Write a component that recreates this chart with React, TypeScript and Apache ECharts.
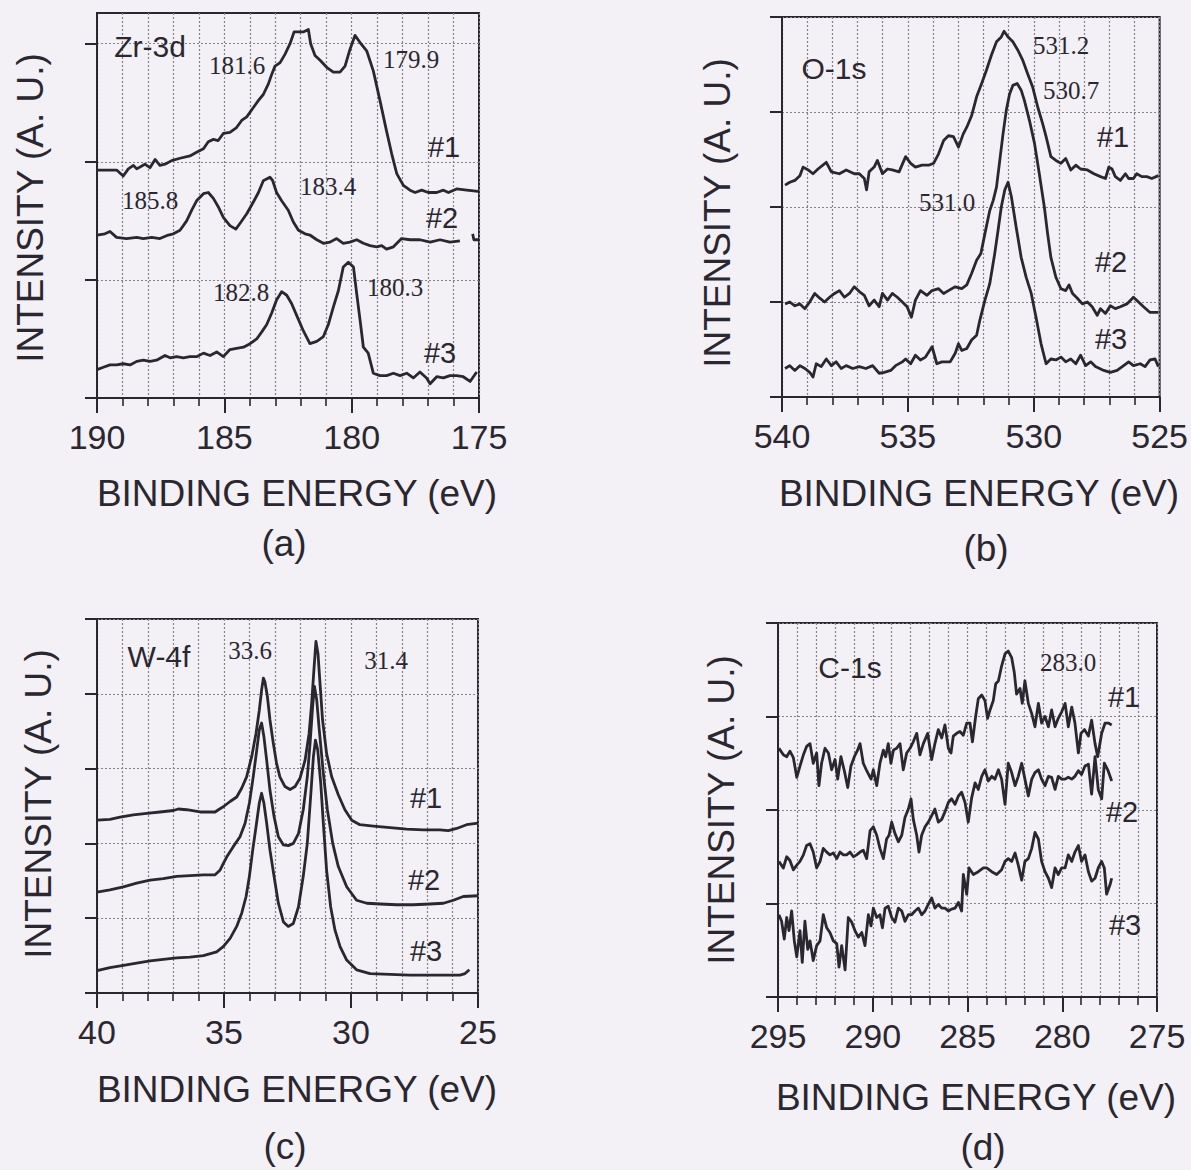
import React, { useEffect, useRef } from 'react';
import * as echarts from 'echarts';

// ---------- data (binding energy eV, intensity a.u.) ----------
const zr1 = [[190.0,1.93],[189.23,1.93],[188.97,1.88],[188.77,1.94],[188.57,1.97],[188.44,1.94],[188.12,1.98],[187.92,1.95],[187.72,2.02],[187.53,1.97],[187.33,1.98],[187.07,2.01],[186.74,2.03],[186.35,2.05],[186.09,2.08],[185.82,2.11],[185.63,2.17],[185.43,2.19],[185.24,2.18],[185.04,2.24],[184.78,2.25],[184.52,2.29],[184.32,2.35],[184.12,2.38],[183.86,2.46],[183.66,2.52],[183.47,2.57],[183.27,2.66],[183.14,2.74],[183.01,2.81],[182.81,2.84],[182.62,2.91],[182.42,3.0],[182.26,3.1],[182.03,3.1],[181.9,3.1],[181.7,3.12],[181.61,3.0],[181.44,2.9],[181.24,2.86],[180.98,2.8],[180.72,2.76],[180.46,2.76],[180.26,2.81],[180.07,2.95],[179.87,3.07],[179.67,3.01],[179.41,2.94],[179.15,2.77],[178.89,2.52],[178.63,2.26],[178.43,2.07],[178.23,1.9],[177.97,1.8],[177.71,1.76],[177.51,1.74],[177.25,1.76],[176.99,1.74],[176.66,1.74],[176.4,1.76],[176.2,1.74],[175.88,1.77],[175.48,1.76],[175.03,1.75]];
const zr2 = [[190.0,1.38],[189.69,1.39],[189.49,1.41],[189.23,1.36],[188.84,1.35],[188.44,1.36],[188.18,1.35],[187.85,1.36],[187.53,1.35],[187.2,1.38],[187.0,1.39],[186.74,1.42],[186.48,1.5],[186.28,1.59],[186.09,1.67],[185.82,1.73],[185.63,1.74],[185.43,1.69],[185.24,1.62],[185.04,1.53],[184.78,1.46],[184.55,1.43],[184.38,1.48],[184.12,1.56],[183.86,1.66],[183.66,1.74],[183.47,1.84],[183.21,1.87],[183.1,1.84],[182.95,1.74],[182.75,1.67],[182.49,1.59],[182.29,1.49],[182.09,1.42],[181.83,1.39],[181.64,1.38],[181.37,1.34],[181.11,1.31],[180.85,1.32],[180.59,1.35],[180.33,1.31],[180.07,1.32],[179.8,1.34],[179.54,1.31],[179.28,1.29],[179.02,1.28],[178.82,1.29],[178.63,1.26],[178.36,1.28],[178.04,1.35],[177.71,1.34],[177.32,1.34],[176.92,1.32],[176.53,1.34],[176.14,1.32],[175.75,1.33],[175.5,'-'],[175.25,1.39],[175.2,1.34],[175.03,1.34]];
const zr3 = [[190.0,0.24],[189.75,0.26],[189.49,0.28],[189.23,0.28],[188.97,0.29],[188.7,0.28],[188.44,0.31],[188.18,0.32],[187.92,0.31],[187.66,0.32],[187.33,0.36],[187.13,0.34],[186.87,0.35],[186.61,0.34],[186.35,0.35],[186.09,0.35],[185.82,0.38],[185.56,0.36],[185.3,0.39],[185.04,0.35],[184.78,0.41],[184.52,0.42],[184.25,0.43],[183.99,0.46],[183.73,0.5],[183.53,0.56],[183.34,0.62],[183.14,0.72],[182.95,0.83],[182.75,0.9],[182.55,0.87],[182.36,0.8],[182.16,0.7],[181.9,0.57],[181.64,0.46],[181.37,0.48],[181.11,0.52],[180.92,0.62],[180.72,0.77],[180.52,0.91],[180.33,1.11],[180.13,1.15],[179.93,1.11],[179.8,0.88],[179.67,0.66],[179.54,0.43],[179.35,0.38],[179.15,0.21],[178.89,0.19],[178.63,0.19],[178.36,0.21],[178.1,0.19],[177.84,0.21],[177.58,0.17],[177.32,0.22],[177.06,0.17],[176.92,0.12],[176.66,0.18],[176.4,0.17],[176.14,0.19],[175.88,0.19],[175.62,0.18],[175.35,0.14],[175.09,0.22]];

const o1 = [[539.88,2.23],[539.69,2.26],[539.49,2.28],[539.29,2.33],[539.16,2.42],[538.96,2.39],[538.77,2.35],[538.57,2.4],[538.24,2.47],[538.04,2.37],[537.72,2.35],[537.45,2.39],[537.13,2.35],[536.93,2.35],[536.73,2.3],[536.64,2.18],[536.54,2.37],[536.34,2.42],[536.21,2.49],[536.01,2.35],[535.81,2.4],[535.62,2.39],[535.35,2.37],[535.09,2.53],[534.89,2.46],[534.7,2.42],[534.44,2.44],[534.17,2.44],[533.98,2.46],[533.78,2.56],[533.58,2.7],[533.39,2.75],[533.19,2.74],[532.99,2.63],[532.8,2.77],[532.66,2.84],[532.47,2.96],[532.27,3.16],[532.07,3.3],[531.88,3.44],[531.68,3.6],[531.48,3.74],[531.29,3.79],[531.18,3.85],[531.02,3.79],[530.83,3.74],[530.63,3.65],[530.43,3.54],[530.24,3.4],[530.04,3.26],[529.84,3.05],[529.65,2.88],[529.51,2.74],[529.32,2.53],[529.12,2.49],[528.92,2.46],[528.73,2.51],[528.53,2.39],[528.33,2.44],[528.14,2.4],[527.87,2.39],[527.61,2.35],[527.35,2.32],[527.15,2.3],[527.02,2.42],[526.89,2.4],[526.76,2.32],[526.56,2.28],[526.36,2.35],[526.23,2.3],[526.04,2.3],[525.91,2.35],[525.71,2.32],[525.51,2.32],[525.31,2.3],[525.05,2.33]];
const o2 = [[539.88,0.98],[539.69,1.0],[539.49,0.96],[539.29,0.98],[539.09,0.93],[538.9,1.0],[538.7,1.09],[538.5,1.04],[538.31,1.0],[538.11,1.05],[537.91,1.09],[537.72,1.12],[537.52,1.05],[537.32,1.09],[537.13,1.16],[536.93,1.11],[536.73,1.07],[536.54,0.96],[536.34,1.02],[536.14,0.95],[536.01,1.09],[535.81,1.02],[535.62,1.09],[535.42,1.05],[535.22,1.0],[535.03,0.95],[534.86,0.84],[534.7,1.02],[534.5,1.12],[534.24,1.07],[534.04,1.12],[533.78,1.14],[533.58,1.09],[533.39,1.12],[533.12,1.16],[532.86,1.14],[532.66,1.18],[532.47,1.3],[532.27,1.44],[532.1,1.51],[531.94,1.72],[531.75,1.96],[531.61,2.07],[531.48,2.21],[531.35,2.49],[531.22,2.77],[531.09,3.02],[530.96,3.19],[530.83,3.28],[530.66,3.3],[530.5,3.23],[530.37,3.12],[530.17,2.91],[529.97,2.67],[529.78,2.35],[529.58,2.0],[529.45,1.72],[529.32,1.47],[529.12,1.26],[528.92,1.14],[528.73,1.12],[528.6,1.18],[528.46,1.09],[528.27,1.04],[528.07,0.98],[527.87,1.0],[527.68,0.95],[527.48,0.86],[527.35,0.93],[527.15,0.88],[526.96,0.96],[526.76,0.93],[526.56,0.95],[526.3,0.98],[526.04,1.05],[525.84,1.0],[525.64,0.95],[525.38,0.89],[525.05,0.89]];
const o3 = [[539.88,0.3],[539.69,0.33],[539.49,0.28],[539.29,0.33],[539.09,0.3],[538.9,0.26],[538.77,0.21],[538.64,0.35],[538.44,0.32],[538.24,0.4],[538.04,0.33],[537.85,0.37],[537.65,0.3],[537.45,0.33],[537.19,0.3],[536.93,0.32],[536.67,0.3],[536.4,0.33],[536.14,0.25],[535.94,0.26],[535.68,0.28],[535.49,0.33],[535.22,0.37],[535.09,0.4],[534.89,0.35],[534.7,0.44],[534.5,0.39],[534.3,0.42],[534.04,0.53],[533.85,0.35],[533.65,0.37],[533.32,0.37],[533.12,0.46],[532.99,0.56],[532.86,0.49],[532.66,0.51],[532.47,0.6],[532.27,0.65],[532.14,0.81],[531.94,1.02],[531.75,1.19],[531.55,1.51],[531.42,1.75],[531.29,2.0],[531.15,2.18],[531.02,2.26],[530.89,2.11],[530.7,1.79],[530.5,1.47],[530.3,1.26],[530.1,1.09],[529.91,0.84],[529.71,0.56],[529.51,0.35],[529.32,0.4],[529.12,0.39],[528.92,0.42],[528.73,0.37],[528.53,0.4],[528.33,0.35],[528.14,0.44],[527.94,0.33],[527.74,0.37],[527.55,0.32],[527.22,0.28],[526.96,0.26],[526.69,0.28],[526.43,0.33],[526.23,0.37],[526.04,0.33],[525.77,0.35],[525.58,0.32],[525.38,0.39],[525.18,0.4],[525.05,0.32]];

const w1 = [[40.0,2.31],[39.49,2.32],[39.09,2.35],[38.57,2.38],[38.04,2.4],[37.52,2.42],[36.99,2.44],[36.8,2.46],[36.47,2.45],[35.94,2.42],[35.35,2.42],[35.22,2.45],[35.03,2.49],[34.76,2.56],[34.5,2.62],[34.3,2.74],[34.11,2.89],[33.91,3.16],[33.74,3.47],[33.61,3.78],[33.52,4.05],[33.45,4.21],[33.39,4.16],[33.29,3.96],[33.19,3.65],[33.06,3.34],[32.93,3.07],[32.8,2.89],[32.6,2.76],[32.4,2.72],[32.2,2.76],[32.01,2.87],[31.81,3.11],[31.65,3.47],[31.55,3.87],[31.46,4.32],[31.38,4.7],[31.3,4.54],[31.22,4.14],[31.12,3.65],[30.96,3.2],[30.76,2.89],[30.5,2.65],[30.24,2.45],[29.97,2.31],[29.65,2.25],[29.12,2.23],[28.46,2.21],[27.81,2.19],[27.15,2.18],[26.5,2.18],[26.17,2.17],[25.84,2.2],[25.45,2.25],[25.0,2.27]];
const w2 = [[40.0,1.35],[39.49,1.38],[38.96,1.42],[38.44,1.47],[37.91,1.51],[37.39,1.53],[36.86,1.56],[36.34,1.57],[35.81,1.58],[35.35,1.58],[35.16,1.64],[35.03,1.73],[34.89,1.82],[34.63,1.96],[34.37,2.09],[34.17,2.27],[34.0,2.54],[33.85,2.89],[33.71,3.25],[33.61,3.52],[33.52,3.61],[33.43,3.43],[33.32,3.11],[33.19,2.71],[33.03,2.36],[32.86,2.09],[32.66,1.98],[32.47,1.97],[32.27,2.0],[32.07,2.13],[31.88,2.45],[31.72,2.89],[31.61,3.34],[31.51,3.83],[31.44,4.1],[31.35,3.92],[31.25,3.52],[31.09,2.94],[30.93,2.45],[30.72,2.0],[30.5,1.69],[30.17,1.42],[29.78,1.24],[29.38,1.2],[28.86,1.19],[28.2,1.18],[27.55,1.18],[26.89,1.19],[26.36,1.2],[25.97,1.24],[25.58,1.29],[25.0,1.3]];
const w3 = [[40.0,0.3],[39.49,0.34],[38.96,0.37],[38.44,0.4],[37.91,0.43],[37.39,0.45],[36.86,0.47],[36.34,0.48],[35.81,0.5],[35.29,0.55],[35.03,0.62],[34.76,0.73],[34.5,0.89],[34.3,1.07],[34.13,1.29],[34.0,1.56],[33.87,1.91],[33.74,2.22],[33.61,2.54],[33.52,2.67],[33.43,2.54],[33.32,2.27],[33.19,1.91],[33.03,1.56],[32.86,1.2],[32.66,0.95],[32.47,0.89],[32.27,0.93],[32.07,1.15],[31.88,1.56],[31.72,2.0],[31.59,2.62],[31.48,3.16],[31.4,3.38],[31.31,3.25],[31.19,2.8],[31.09,2.27],[30.96,1.64],[30.8,1.15],[30.63,0.84],[30.43,0.62],[30.17,0.44],[29.78,0.31],[29.25,0.26],[28.46,0.25],[27.68,0.24],[26.89,0.24],[26.1,0.24],[25.71,0.24],[25.51,0.26],[25.34,0.31]];

const c1 = [[294.95,2.66],[294.72,2.59],[294.54,2.57],[294.37,2.63],[294.19,2.56],[294.01,2.35],[293.84,2.47],[293.66,2.59],[293.49,2.68],[293.31,2.71],[293.14,2.5],[292.96,2.61],[292.84,2.26],[292.7,2.5],[292.52,2.66],[292.34,2.61],[292.17,2.43],[291.99,2.54],[291.85,2.33],[291.68,2.57],[291.5,2.42],[291.32,2.24],[291.15,2.47],[290.97,2.57],[290.8,2.64],[290.67,2.71],[290.5,2.5],[290.32,2.42],[290.09,2.33],[289.97,2.43],[289.79,2.26],[289.62,2.5],[289.44,2.64],[289.32,2.57],[289.18,2.71],[289.04,2.5],[288.91,2.64],[288.74,2.66],[288.56,2.71],[288.39,2.43],[288.21,2.61],[288.03,2.66],[287.86,2.73],[287.68,2.82],[287.51,2.59],[287.33,2.71],[287.1,2.82],[286.89,2.54],[286.72,2.71],[286.54,2.86],[286.36,2.77],[286.19,2.91],[286.01,2.66],[285.87,2.61],[285.75,2.79],[285.57,2.82],[285.4,2.84],[285.22,2.8],[285.04,2.93],[284.87,2.93],[284.74,2.73],[284.57,3.0],[284.43,3.19],[284.25,3.23],[284.08,3.17],[283.94,2.98],[283.81,3.07],[283.64,3.17],[283.51,3.35],[283.37,3.38],[283.2,3.54],[283.02,3.67],[282.85,3.7],[282.67,3.63],[282.53,3.47],[282.41,3.24],[282.23,3.3],[282.11,3.14],[281.97,3.38],[281.79,3.14],[281.61,3.03],[281.44,2.89],[281.26,3.14],[281.09,2.93],[280.91,3.0],[280.73,2.89],[280.56,3.07],[280.38,2.89],[280.21,2.98],[280.03,3.05],[279.85,3.14],[279.68,2.89],[279.5,3.1],[279.33,2.93],[279.15,2.61],[279.01,2.82],[278.83,2.86],[278.62,2.79],[278.45,2.96],[278.27,2.71],[278.13,2.57],[277.92,2.82],[277.74,2.93],[277.57,2.93],[277.39,2.91]];
const c2 = [[294.95,1.45],[294.72,1.38],[294.54,1.5],[294.37,1.46],[294.19,1.36],[294.01,1.41],[293.84,1.45],[293.66,1.52],[293.49,1.62],[293.31,1.64],[293.14,1.55],[292.96,1.38],[292.78,1.45],[292.61,1.59],[292.43,1.55],[292.26,1.52],[292.08,1.54],[291.9,1.48],[291.73,1.55],[291.55,1.52],[291.38,1.52],[291.2,1.55],[291.02,1.5],[290.85,1.52],[290.67,1.55],[290.5,1.57],[290.32,1.48],[290.14,1.78],[289.97,1.82],[289.79,1.73],[289.62,1.59],[289.44,1.48],[289.27,1.69],[289.14,1.73],[289.0,1.87],[288.83,1.75],[288.65,1.66],[288.47,1.73],[288.3,1.92],[288.12,2.01],[287.98,2.12],[287.86,1.9],[287.68,1.73],[287.56,1.55],[287.42,1.73],[287.24,1.82],[287.07,1.87],[286.89,1.94],[286.72,2.01],[286.54,1.87],[286.36,1.9],[286.19,1.98],[286.01,2.08],[285.84,2.12],[285.66,2.06],[285.48,2.15],[285.31,2.19],[285.13,2.08],[284.96,1.87],[284.78,2.13],[284.6,2.29],[284.43,2.22],[284.25,2.36],[284.08,2.43],[283.9,2.31],[283.72,2.36],[283.55,2.33],[283.37,2.43],[283.2,2.33],[283.02,2.06],[282.85,2.5],[282.67,2.4],[282.49,2.26],[282.32,2.36],[282.14,2.5],[281.97,2.33],[281.79,2.15],[281.61,2.33],[281.44,2.4],[281.26,2.43],[281.09,2.33],[280.91,2.26],[280.73,2.36],[280.56,2.35],[280.38,2.22],[280.21,2.36],[280.03,2.33],[279.85,2.33],[279.68,2.35],[279.5,2.33],[279.33,2.36],[279.15,2.42],[278.98,2.38],[278.8,2.47],[278.62,2.49],[278.45,2.17],[278.27,2.57],[278.1,2.22],[277.92,2.12],[277.78,2.5],[277.6,2.43],[277.39,2.31]];
const c3 = [[294.95,0.88],[294.81,0.81],[294.67,0.62],[294.54,0.85],[294.42,0.71],[294.28,0.92],[294.14,0.6],[294.01,0.43],[293.84,0.71],[293.72,0.37],[293.58,0.81],[293.43,0.51],[293.31,0.6],[293.14,0.39],[292.96,0.55],[292.78,0.6],[292.61,0.88],[292.43,0.74],[292.26,0.69],[292.08,0.6],[291.9,0.57],[291.78,0.32],[291.64,0.55],[291.46,0.29],[291.29,0.85],[291.11,0.8],[290.94,0.71],[290.76,0.64],[290.58,0.69],[290.41,0.55],[290.23,0.88],[290.09,0.76],[289.97,0.95],[289.79,0.85],[289.62,0.88],[289.49,0.74],[289.35,0.95],[289.18,0.97],[289.0,0.85],[288.83,0.8],[288.65,0.95],[288.47,0.92],[288.3,0.81],[288.12,0.88],[287.95,0.88],[287.77,0.92],[287.59,0.95],[287.42,0.88],[287.24,0.92],[287.07,0.99],[286.89,1.06],[286.72,0.95],[286.54,0.99],[286.36,0.95],[286.19,0.95],[286.01,0.92],[285.84,0.94],[285.66,0.95],[285.48,1.01],[285.31,0.92],[285.22,1.31],[285.04,1.1],[284.92,1.38],[284.69,1.31],[284.43,1.34],[284.16,1.38],[283.99,1.38],[283.72,1.34],[283.46,1.31],[283.2,1.36],[283.02,1.45],[282.85,1.48],[282.67,1.45],[282.49,1.54],[282.32,1.41],[282.14,1.25],[281.97,1.45],[281.79,1.48],[281.61,1.59],[281.44,1.76],[281.26,1.69],[281.09,1.45],[280.91,1.34],[280.73,1.27],[280.56,1.17],[280.38,1.38],[280.21,1.31],[280.03,1.38],[279.85,1.38],[279.68,1.52],[279.5,1.45],[279.33,1.55],[279.15,1.62],[278.98,1.45],[278.8,1.52],[278.62,1.34],[278.45,1.24],[278.27,1.27],[278.1,1.38],[277.92,1.45],[277.78,1.38],[277.66,1.1],[277.48,1.2],[277.39,1.27]];

// axis ranges: [low eV, high eV]
const xRanges = [[175, 190], [525, 540], [25, 40], [275, 295]];
// intensity axis tops and tick values
const yTops = [3.26, 4, 5, 4];
const yTickValues = [[0, 1, 2, 3], [0, 1, 2, 3, 4], [0, 1, 2, 3, 4, 5], [0, 1, 2, 3, 4]];

const INK = '#2a2730';
const GRIDC = '#85828a';
const BG = '#f3f1f5';
const SANS = '"Liberation Sans", Arial, Helvetica, sans-serif';
const SERIF = '"Liberation Serif", "Times New Roman", serif';

const grids = [
  { left: 97, top: 13, width: 382, height: 385 },
  { left: 782, top: 17, width: 381, height: 380 },
  { left: 97, top: 619, width: 381, height: 374 },
  { left: 778, top: 623, width: 379, height: 374 },
];

function txt(text: string, x: number, y: number, size: number, family: string, rotation = 0) {
  return {
    type: 'text', x, y, rotation, silent: true, z: 10,
    style: {
      text, fontSize: size, fontFamily: family, fill: INK,
      align: 'center', verticalAlign: 'middle',
      textAlign: 'center', textVerticalAlign: 'middle',
    },
  };
}

export default function App() {
  const ref = useRef<HTMLDivElement>(null);
  useEffect(() => {
    if (!ref.current) return;
    const chart = echarts.init(ref.current, undefined, { renderer: 'svg' });
    const dotted = { color: GRIDC, width: 1.2, type: [2, 2] };
    const xAxis = xRanges.map((r, i) => ({
      type: 'value', gridIndex: i, min: r[0], max: r[1], interval: 5, inverse: true,
      axisLine: { show: true, onZero: false, lineStyle: { color: INK, width: 2 } },
      axisTick: { show: true, length: 15, lineStyle: { color: INK, width: 2 } },
      minorTick: { show: true, splitNumber: 5, length: 8, lineStyle: { color: INK, width: 1.6 } },
      splitLine: { show: true, lineStyle: dotted },
      minorSplitLine: { show: true, lineStyle: dotted },
      axisLabel: { show: true, fontSize: 34, margin: 22, color: INK, fontFamily: SANS },
    }));
    const yAxis = yTops.map((top, i) => ({
      type: 'value', gridIndex: i, min: 0, max: top, interval: 1,
      axisLine: { show: true, onZero: false, lineStyle: { color: INK, width: 2 } },
      axisTick: { show: true, length: 12, customValues: yTickValues[i], lineStyle: { color: INK, width: 2 } },
      axisLabel: { show: false },
      splitLine: { show: true, lineStyle: dotted },
    }));
    const curves = [[zr1, zr2, zr3], [o1, o2, o3], [w1, w2, w3], [c1, c2, c3]];
    const series: any[] = [];
    curves.forEach((set, i) => set.forEach((d) => series.push({
      type: 'line', xAxisIndex: i, yAxisIndex: i, data: d, symbol: 'none', showSymbol: false,
      silent: true, z: 3, lineStyle: { color: INK, width: 2.8, join: 'round' },
    })));
    const sansNote = 30, hashSize = 29, serifNote = 25, title = 37;
    const graphic = [
      // panel (a)
      txt('Zr-3d', 150, 46, sansNote, SANS),
      txt('181.6', 237, 65, serifNote, SERIF), txt('179.9', 411, 59, serifNote, SERIF),
      txt('185.8', 150, 200, serifNote, SERIF), txt('183.4', 328, 186, serifNote, SERIF),
      txt('182.8', 241, 292, serifNote, SERIF), txt('180.3', 395, 287, serifNote, SERIF),
      txt('#1', 444, 147, hashSize, SANS), txt('#2', 442, 218, hashSize, SANS), txt('#3', 440, 353, hashSize, SANS),
      txt('INTENSITY (A. U.)', 30, 208, title, SANS, Math.PI / 2),
      txt('BINDING ENERGY (eV)', 297, 493, title, SANS), txt('(a)', 284, 543, title, SANS),
      // panel (b)
      txt('O-1s', 834, 68, sansNote, SANS),
      txt('531.2', 1061, 45, serifNote, SERIF), txt('530.7', 1071, 90, serifNote, SERIF), txt('531.0', 947, 202, serifNote, SERIF),
      txt('#1', 1113, 137, hashSize, SANS), txt('#2', 1111, 262, hashSize, SANS), txt('#3', 1111, 339, hashSize, SANS),
      txt('INTENSITY (A. U.)', 717, 213, title, SANS, Math.PI / 2),
      txt('BINDING ENERGY (eV)', 979, 493, title, SANS), txt('(b)', 986, 548, title, SANS),
      // panel (c)
      txt('W-4f', 159, 656, sansNote, SANS),
      txt('33.6', 250, 650, serifNote, SERIF), txt('31.4', 386, 660, serifNote, SERIF),
      txt('#1', 426, 798, hashSize, SANS), txt('#2', 424, 880, hashSize, SANS), txt('#3', 426, 951, hashSize, SANS),
      txt('INTENSITY (A. U.)', 38, 804, title, SANS, Math.PI / 2),
      txt('BINDING ENERGY (eV)', 297, 1089, title, SANS), txt('(c)', 285, 1146, title, SANS),
      // panel (d)
      txt('C-1s', 850, 667, sansNote, SANS),
      txt('283.0', 1068, 662, serifNote, SERIF),
      txt('#1', 1124, 697, hashSize, SANS), txt('#2', 1122, 812, hashSize, SANS), txt('#3', 1125, 925, hashSize, SANS),
      txt('INTENSITY (A. U.)', 721, 810, title, SANS, Math.PI / 2),
      txt('BINDING ENERGY (eV)', 976, 1097, title, SANS), txt('(d)', 983, 1147, title, SANS),
    ];
    chart.setOption({
      animation: false,
      backgroundColor: BG,
      grid: grids.map((g) => ({ ...g, show: true, borderColor: INK, borderWidth: 2, backgroundColor: 'transparent', containLabel: false })),
      xAxis, yAxis, series, graphic,
    });
    return () => chart.dispose();
  }, []);
  return <div ref={ref} style={{ position: 'absolute', left: 0, top: 0, width: 1191, height: 1170 }} />;
}
